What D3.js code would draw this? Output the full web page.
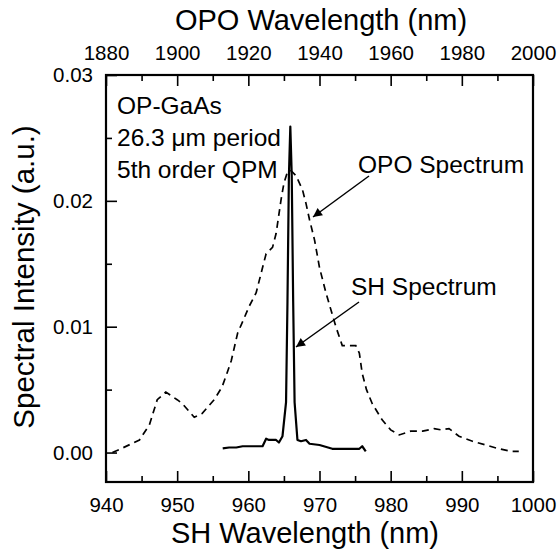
<!DOCTYPE html>
<html>
<head>
<meta charset="utf-8">
<script src="https://cdn.jsdelivr.net/npm/d3@7"></script>
<style>
  body { margin: 0; background: #fff; }
  svg text { font-family: "Liberation Sans", Arial, sans-serif; fill: #000; }
</style>
</head>
<body>
<svg id="chart" width="559" height="550"></svg>
<script>
var width = 559,
    height = 550;

// OPO spectrum (dashed), plotted on the SH wavelength axis (OPO / 2)
var opo_wavelength = [940.9, 942.1, 944.7, 946.1, 947.2, 948.4, 950.0, 950.7, 952.4, 953.5,
    955.2, 956.3, 957.0, 957.6, 958.5, 959.2, 960.1, 961.1, 962.0, 962.5,
    963.4, 963.9, 964.6, 965.0, 965.5, 966.0, 966.7, 967.6, 968.1, 968.6,
    969.3, 970.0, 970.9, 972.3, 973.2, 975.1, 975.6, 976.0, 976.6, 977.4,
    978.8, 980.0, 981.2, 982.8, 984.5, 986.1, 987.1, 988.2, 989.6, 991.5,
    993.4, 995.2, 996.9, 998.0];
var opo_intensity = [0.0000, 0.0003, 0.0010, 0.0022, 0.0042, 0.0048, 0.0042, 0.0039, 0.0028, 0.0031,
    0.0042, 0.0052, 0.0063, 0.0073, 0.0095, 0.0104, 0.0116, 0.0127, 0.0147, 0.0158,
    0.0163, 0.0174, 0.0201, 0.0214, 0.0223, 0.0224, 0.0220, 0.0209, 0.0198, 0.0185,
    0.0169, 0.0147, 0.0127, 0.0100, 0.0085, 0.0085, 0.0079, 0.0063, 0.0050, 0.0039,
    0.0026, 0.0018, 0.0014, 0.0017, 0.0017, 0.0019, 0.0018, 0.0019, 0.0013, 0.0009,
    0.0006, 0.0003, 0.0001, 0.0001];

// SH spectrum (solid)
var sh_wavelength = [956.4, 957.3, 958.3, 959.2, 962.0, 962.5, 962.9, 963.9, 964.3, 964.8,
    965.3, 965.5, 965.7, 965.9, 966.1, 966.3, 966.5, 966.9, 967.4, 968.1,
    968.6, 970.0, 971.8, 975.6, 976.0, 976.5];
var sh_intensity = [0.00033, 0.0004, 0.0004, 0.0005, 0.0005, 0.0011, 0.0010, 0.0010, 0.0008, 0.0013,
    0.0040, 0.0120, 0.0220, 0.0259, 0.0220, 0.0120, 0.0040, 0.0010, 0.0009, 0.0010,
    0.0007, 0.0006, 0.0003, 0.0003, 0.0005, 0.0001];

var sh_ticks = [940, 950, 960, 970, 980, 990, 1000];
var opo_ticks = [1880, 1900, 1920, 1940, 1960, 1980, 2000];
var y_ticks = [0.00, 0.01, 0.02, 0.03];

var notes = ["OP-GaAs", "26.3 \u03bcm period", "5th order QPM"];

var margin = { left: 106, right: 26, top: 75, bottom: 68 };
var plot_w = width - margin.left - margin.right,
    plot_h = height - margin.top - margin.bottom;

var svg = d3.select("#chart");
var g = svg.append("g").attr("transform", "translate(" + margin.left + "," + margin.top + ")");

var x = d3.scaleLinear().domain([940, 1000]).range([0, plot_w]);
var x_opo = d3.scaleLinear().domain([1880, 2000]).range([0, plot_w]);
var y = d3.scaleLinear().domain([-0.00234, 0.03]).range([plot_h, 0]);

function styleAxis(sel, size) {
    sel.select(".domain").remove();
    sel.selectAll(".tick line").attr("stroke", "#000").attr("stroke-width", 1.6);
    sel.selectAll("text").style("font-size", size + "px");
}

// bottom axis
g.append("g")
    .attr("transform", "translate(0," + plot_h + ")")
    .call(d3.axisBottom(x).tickValues(sh_ticks).tickFormat(d3.format("d"))
        .tickSizeInner(-11).tickSizeOuter(0).tickPadding(15))
    .call(styleAxis, 20.5);
g.append("g")
    .attr("transform", "translate(0," + plot_h + ")")
    .call(d3.axisBottom(x).tickValues(d3.range(945, 1000, 10)).tickFormat("")
        .tickSizeInner(-6).tickSizeOuter(0))
    .call(styleAxis, 20);

// top axis (OPO)
g.append("g")
    .call(d3.axisTop(x_opo).tickValues(opo_ticks).tickFormat(d3.format("d"))
        .tickSizeInner(-11).tickSizeOuter(0).tickPadding(15))
    .call(styleAxis, 20.5);
g.append("g")
    .call(d3.axisTop(x_opo).tickValues(d3.range(1890, 2000, 20)).tickFormat("")
        .tickSizeInner(-6).tickSizeOuter(0))
    .call(styleAxis, 20);

// left axis
g.append("g")
    .call(d3.axisLeft(y).tickValues(y_ticks).tickFormat(d3.format(".2f"))
        .tickSizeInner(-11).tickSizeOuter(0).tickPadding(13))
    .call(styleAxis, 20.5);
g.append("g")
    .call(d3.axisLeft(y).tickValues([0.005, 0.015, 0.025]).tickFormat("")
        .tickSizeInner(-6).tickSizeOuter(0))
    .call(styleAxis, 20);

// frame
g.append("rect")
    .attr("width", plot_w)
    .attr("height", plot_h)
    .attr("fill", "none")
    .attr("stroke", "#000")
    .attr("stroke-width", 2.2);

var line = d3.line()
    .x(function (d) { return x(d[0]); })
    .y(function (d) { return y(d[1]); });

g.append("path")
    .datum(d3.zip(opo_wavelength, opo_intensity))
    .attr("d", line)
    .attr("fill", "none")
    .attr("stroke", "#000")
    .attr("stroke-width", 1.7)
    .attr("stroke-dasharray", "7,5");

g.append("path")
    .datum(d3.zip(sh_wavelength, sh_intensity))
    .attr("d", line)
    .attr("fill", "none")
    .attr("stroke", "#000")
    .attr("stroke-width", 2.2)
    .attr("stroke-linejoin", "round");

// axis titles
svg.append("text")
    .attr("x", 305)
    .attr("y", 543)
    .attr("text-anchor", "middle")
    .style("font-size", "29px")
    .text("SH Wavelength (nm)");

svg.append("text")
    .attr("x", 321)
    .attr("y", 30)
    .attr("text-anchor", "middle")
    .style("font-size", "29px")
    .text("OPO Wavelength (nm)");

svg.append("text")
    .attr("transform", "translate(34,277) rotate(-90)")
    .attr("text-anchor", "middle")
    .style("font-size", "29.5px")
    .text("Spectral Intensity (a.u.)");

// sample notes
svg.selectAll(".note")
    .data(notes)
    .join("text")
    .attr("class", "note")
    .attr("x", 117)
    .attr("y", function (d, i) { return 114 + i * 32; })
    .style("font-size", "24.5px")
    .text(function (d) { return d; });

// arrows
svg.append("defs").append("marker")
    .attr("id", "head")
    .attr("viewBox", "0 0 10 10")
    .attr("refX", 10)
    .attr("refY", 5)
    .attr("markerWidth", 12)
    .attr("markerHeight", 9)
    .attr("markerUnits", "userSpaceOnUse")
    .attr("orient", "auto")
    .append("path")
    .attr("d", "M0,0L10,5L0,10Z")
    .attr("fill", "#000");

svg.append("text")
    .attr("x", 358)
    .attr("y", 173)
    .style("font-size", "24.5px")
    .text("OPO Spectrum");
svg.append("line")
    .attr("x1", 369).attr("y1", 176)
    .attr("x2", 313).attr("y2", 217)
    .attr("stroke", "#000").attr("stroke-width", 1.5)
    .attr("marker-end", "url(#head)");

svg.append("text")
    .attr("x", 351)
    .attr("y", 295)
    .style("font-size", "24.5px")
    .text("SH Spectrum");
svg.append("line")
    .attr("x1", 359).attr("y1", 302)
    .attr("x2", 296).attr("y2", 347)
    .attr("stroke", "#000").attr("stroke-width", 1.5)
    .attr("marker-end", "url(#head)");
</script>
</body>
</html>
